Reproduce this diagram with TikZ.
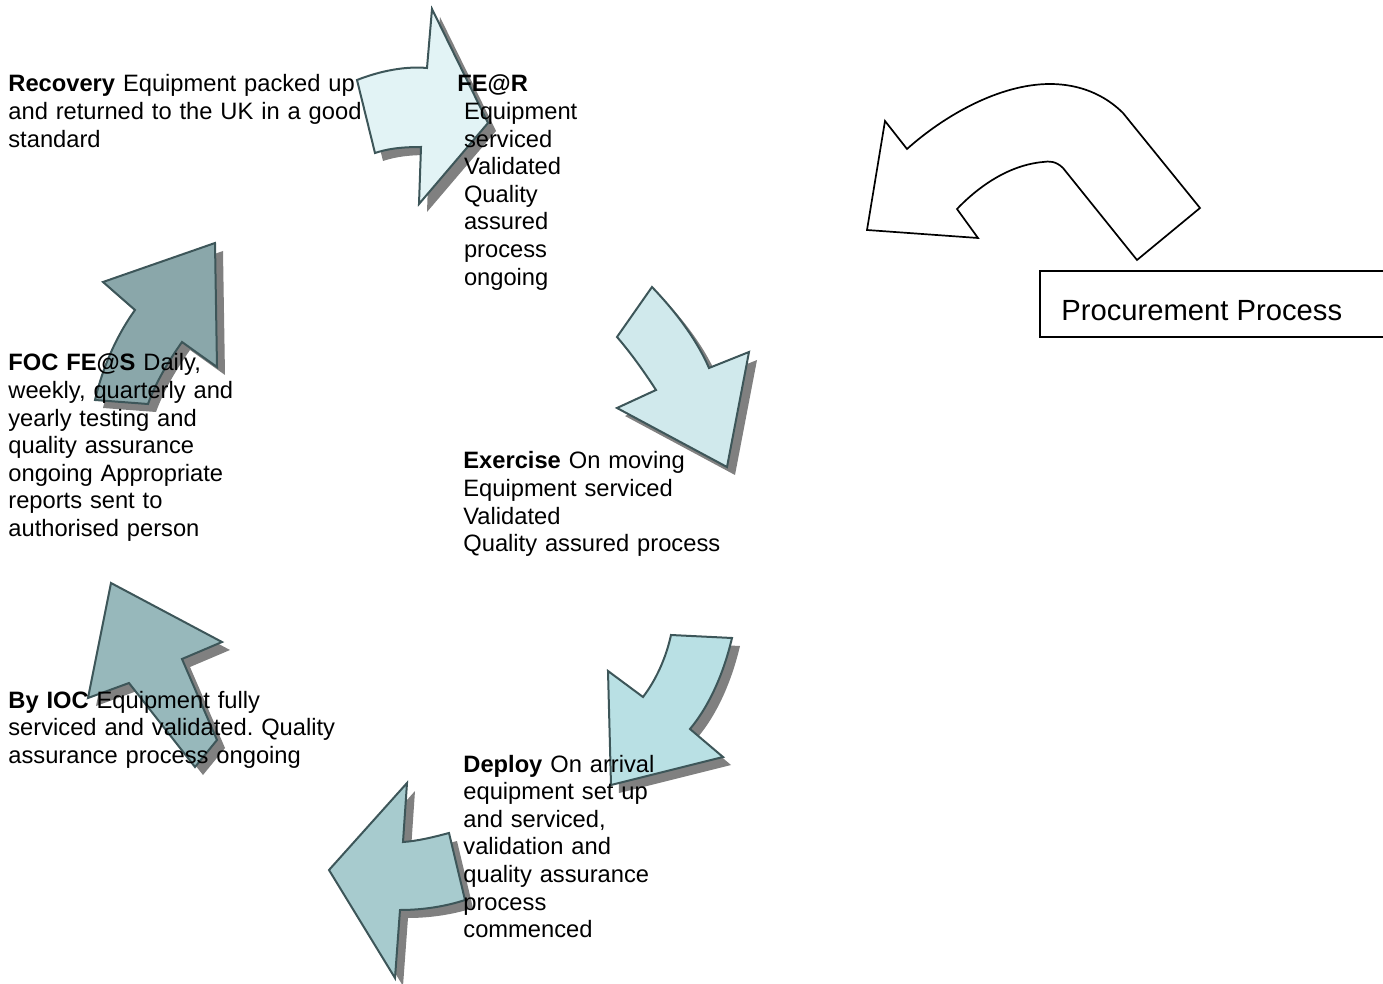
\documentclass[tikz,border=0pt]{standalone}
\usepackage{fontspec}
\setmainfont{Liberation Sans}
\frenchspacing
\begin{document}
\begin{tikzpicture}[x=0.5pt,y=-0.5pt,
  arrowshape/.style={draw=strokecol,line width=1pt,line join=miter},
  label/.style={anchor=base west,inner sep=0pt,align=left,text width=260pt,
    font=\fontsize{11.85pt}{13.8pt}\selectfont},
  boxtext/.style={anchor=base west,inner sep=0pt,font=\fontsize{14.6pt}{16.8pt}\selectfont}]
\definecolor{strokecol}{HTML}{3D5659}
\definecolor{shadowcol}{HTML}{808080}
\definecolor{cA}{HTML}{E2F3F5}
\definecolor{cB}{HTML}{D0E9EC}
\definecolor{cC}{HTML}{B9E0E4}
\definecolor{cD}{HTML}{A7CBCE}
\definecolor{cE}{HTML}{97B8BB}
\definecolor{cF}{HTML}{8AA7AA}
\useasboundingbox (0,0) rectangle (1383,984);
\def\arrowA{(357,80) .. controls (380,71) and (405,66) .. (427,68) -- (432,9) -- (488,123) -- (419,204) -- (421,147) .. controls (400,147) and (387,149) .. (375,153) -- cycle}
\def\arrowB{(652,287) .. controls (674,310) and (696,338) .. (709,368) -- (749,352) -- (727,467) -- (617,408) -- (656,390) .. controls (643,370) and (630,352) .. (617,337) -- cycle}
\def\arrowC{(671,635) -- (732,638) .. controls (724,672) and (710,705) .. (690,729) -- (723,757) -- (611,785) -- (608,671) -- (643,697) .. controls (656,680) and (666,658) .. (671,635) -- cycle}
\def\arrowD{(407,783) -- (329,870) -- (395,978) -- (400,910) .. controls (424,910) and (447,906) .. (465,900) -- (449,833) .. controls (434,837) and (418,841) .. (403,842) -- cycle}
\def\arrowE{(111,583) -- (222,642) -- (182,659) -- (217,740) -- (195,767) -- (129,683) -- (88,698) -- cycle}
\def\arrowF{(215,243) -- (217,367) -- (182,342) .. controls (168,362) and (156,382) .. (148,404) -- (95,400) .. controls (103,366) and (117,335) .. (135,310) -- (103,282) -- cycle}
% shadows
\foreach \p in {\arrowA,\arrowB,\arrowC,\arrowD,\arrowE,\arrowF}{
  \fill[shadowcol,shift={(8,8)}] \p;
}
\filldraw[arrowshape,fill=cA] \arrowA;
\filldraw[arrowshape,fill=cB] \arrowB;
\filldraw[arrowshape,fill=cC] \arrowC;
\filldraw[arrowshape,fill=cD] \arrowD;
\filldraw[arrowshape,fill=cE] \arrowE;
\filldraw[arrowshape,fill=cF] \arrowF;
% procurement curved arrow
\draw[line width=0.85pt,line join=miter] (867,230) -- (885,121) -- (907,149)
  .. controls (945,115) and (1000,84) .. (1050,84)
  .. controls (1080,84) and (1105,95) .. (1123,113)
  -- (1200,208) -- (1137,260) -- (1063,168)
  .. controls (1056,161) and (1049,161) .. (1043,162)
  .. controls (1010,165) and (980,185) .. (957,209)
  -- (978,238) -- cycle;
\draw[line width=0.6pt] (1040,271) rectangle (1395,337);
\node[boxtext] (proc) at (1061,321) {Procurement Process};
% texts
\node[label] (recovery) at (8,92) {\textbf{Recovery} Equipment packed up\\and returned to the UK in a good\\standard};
\node[label] (fear) at (457,92) {\textbf{FE@R}\\\hspace*{3.3pt}Equipment\\\hspace*{3.3pt}serviced\\\hspace*{3.3pt}Validated\\\hspace*{3.3pt}Quality\\\hspace*{3.3pt}assured\\\hspace*{3.3pt}process\\\hspace*{3.3pt}ongoing};
\node[label] (exercise) at (463,469) {\textbf{Exercise} On moving\\Equipment serviced\\Validated\\Quality assured process};
\node[label] (deploy) at (463,772) {\textbf{Deploy} On arrival\\equipment set up\\and serviced,\\validation and\\quality assurance\\process\\commenced};
\node[label] (ioc) at (8,708) {\textbf{By IOC} Equipment fully\\serviced and validated. Quality\\assurance process ongoing};
\node[label] (foc) at (8,371) {\textbf{FOC FE@S} Daily,\\weekly, quarterly and\\yearly testing and\\quality assurance\\ongoing Appropriate\\reports sent to\\authorised person};
\end{tikzpicture}
\end{document}
